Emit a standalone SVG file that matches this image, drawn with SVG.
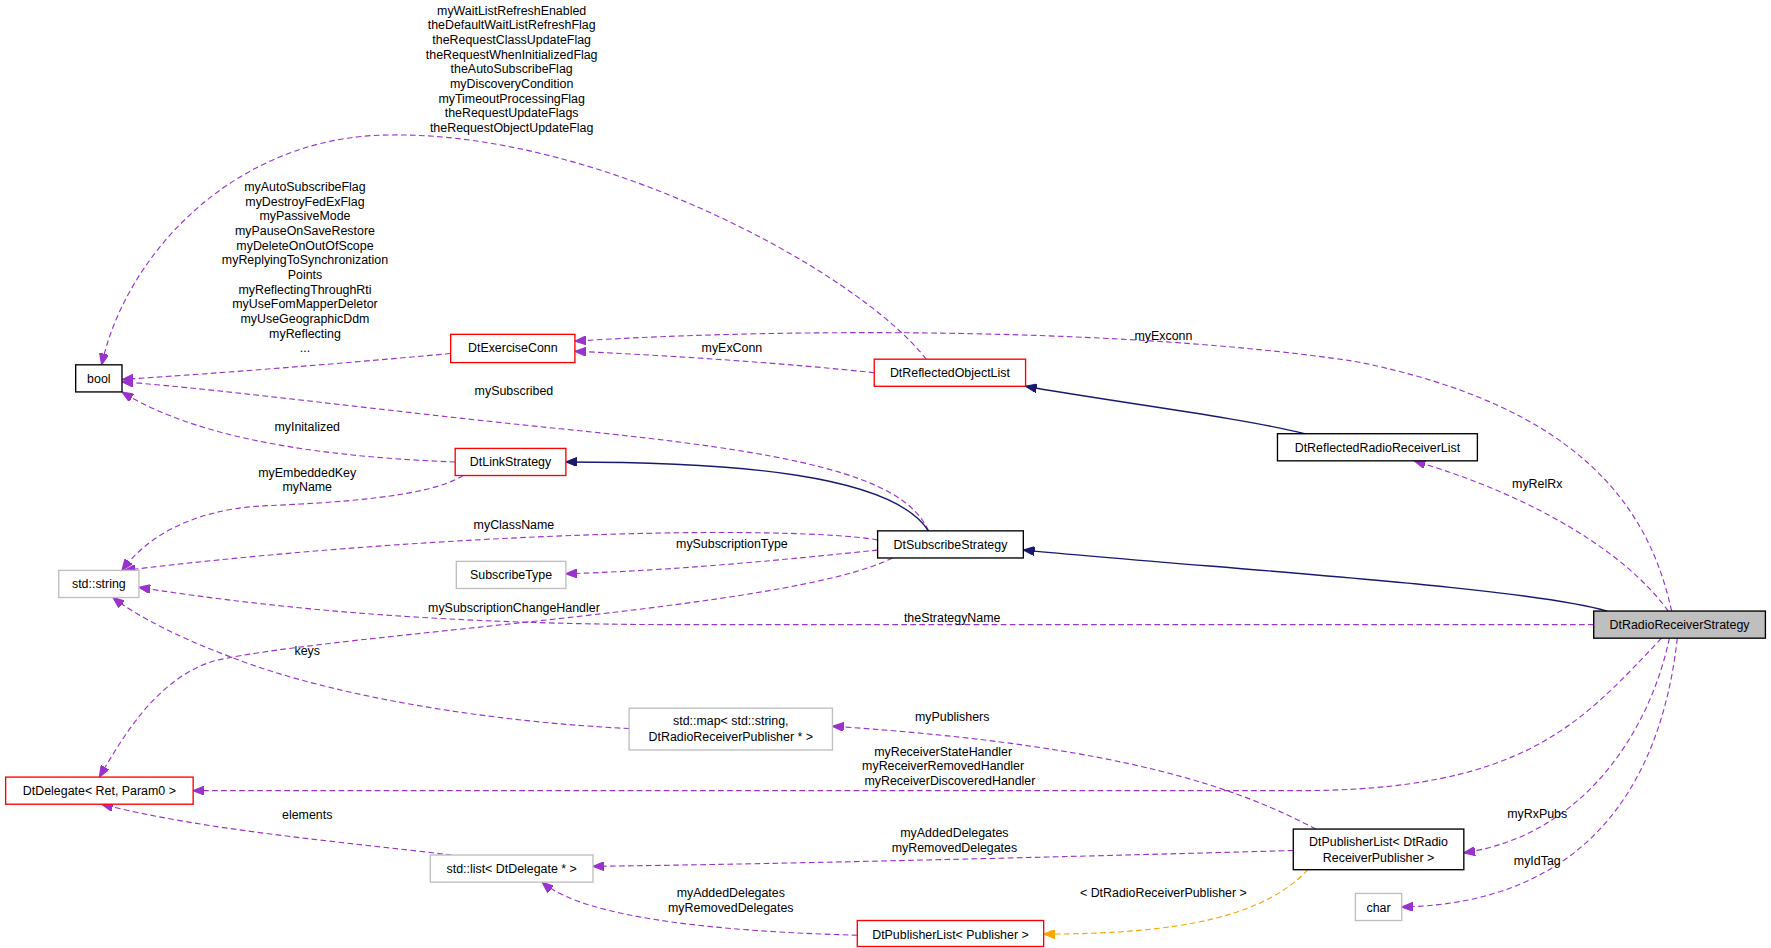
<svg xmlns="http://www.w3.org/2000/svg" width="1771" height="948" viewBox="0 0 1771 948">
<defs>
<marker id="ap" viewBox="0 0 10 8" refX="10" refY="4" markerWidth="10" markerHeight="8" markerUnits="userSpaceOnUse" orient="auto"><path d="M0,0 L10,4 L0,8 Z" fill="#9a32cd" stroke="#9a32cd"/></marker>
<marker id="ab" viewBox="0 0 10 8" refX="10" refY="4" markerWidth="10" markerHeight="8" markerUnits="userSpaceOnUse" orient="auto"><path d="M0,0 L10,4 L0,8 Z" fill="#191970" stroke="#191970"/></marker>
<marker id="ao" viewBox="0 0 10 8" refX="10" refY="4" markerWidth="10" markerHeight="8" markerUnits="userSpaceOnUse" orient="auto"><path d="M0,0 L10,4 L0,8 Z" fill="#ffa500" stroke="#ffa500"/></marker>
</defs>
<style>
text{font-family:"Liberation Sans",Arial,sans-serif;font-size:11px;fill:#000;text-anchor:middle}
.n{fill:#fff;stroke:#000;stroke-width:1.2}
.r{fill:#fff;stroke:#ff0000;stroke-width:1.2}
.g{fill:#fff;stroke:#bfbfbf;stroke-width:1.2}
.f{fill:#bfbfbf;stroke:#000;stroke-width:1.2}
.p{fill:none;stroke:#9a32cd;stroke-dasharray:5,3;marker-end:url(#ap)}
.b{fill:none;stroke:#191970;stroke-width:1.2;marker-end:url(#ab)}
.o{fill:none;stroke:#ffa500;stroke-dasharray:5,3;marker-end:url(#ao)}
</style>
<rect width="1771" height="948" fill="#fff"/>
<g transform="scale(1.1295)">
<g id="edges">
<path class="p" d="M820,318 C760,240 520,110 330,120 C200,128 110,230 90,323"/>
<path class="p" d="M399,313 C300,322 200,330 108,336"/>
<path class="p" d="M822,470 C800,420 700,400 500,380 C350,365 200,345 108,338"/>
<path class="p" d="M403,409 C300,405 180,392 108,347"/>
<path class="p" d="M774,330 C700,322 600,315 509,311"/>
<path class="p" d="M1480,541 C1460,450 1400,360 1200,320 C1000,290 700,290 509,302"/>
<path class="p" d="M1477,541 C1440,490 1360,440 1252,408"/>
<path class="b" d="M1155,384 C1100,370 980,355 908,342"/>
<path class="b" d="M822,470 C790,420 650,409 501,409"/>
<path class="b" d="M1423,541 C1350,520 1100,505 906,487"/>
<path class="p" d="M777,478 C700,465 400,470 110,505"/>
<path class="p" d="M410,421 C380,440 300,445 230,448 C170,452 130,475 108,505"/>
<path class="p" d="M777,487 C700,495 600,505 501,508"/>
<path class="p" d="M1411,553 L600,553 C400,553 250,540 123,520"/>
<path class="p" d="M557,645 C450,640 300,620 200,580 C160,565 120,545 100,529"/>
<path class="p" d="M790,494 C700,540 300,560 190,585 C140,600 110,650 88,688"/>
<path class="p" d="M1165,734 C1100,700 1000,660 737,643"/>
<path class="p" d="M1471,565 C1400,640 1350,700 1150,700 L171,700"/>
<path class="p" d="M1145,753 C1000,757 700,765 525,767"/>
<path class="p" d="M400,757 C300,745 180,735 90,712"/>
<path class="p" d="M759,828 C650,825 520,815 480,781"/>
<path class="o" d="M1158,770 C1120,810 1050,827 924,827"/>
<path class="p" d="M1478,565 C1460,650 1400,740 1296,755"/>
<path class="p" d="M1485,565 C1470,700 1400,800 1241,803"/>
<g id="labels">
<text x="453" y="13">myWaitListRefreshEnabled</text>
<text x="453" y="26">theDefaultWaitListRefreshFlag</text>
<text x="453" y="39">theRequestClassUpdateFlag</text>
<text x="453" y="52">theRequestWhenInitializedFlag</text>
<text x="453" y="65">theAutoSubscribeFlag</text>
<text x="453" y="78">myDiscoveryCondition</text>
<text x="453" y="91">myTimeoutProcessingFlag</text>
<text x="453" y="104">theRequestUpdateFlags</text>
<text x="453" y="117">theRequestObjectUpdateFlag</text>
<text x="270" y="169">myAutoSubscribeFlag</text>
<text x="270" y="182">myDestroyFedExFlag</text>
<text x="270" y="195">myPassiveMode</text>
<text x="270" y="208">myPauseOnSaveRestore</text>
<text x="270" y="221">myDeleteOnOutOfScope</text>
<text x="270" y="234">myReplyingToSynchronization</text>
<text x="270" y="247">Points</text>
<text x="270" y="260">myReflectingThroughRti</text>
<text x="270" y="273">myUseFomMapperDeletor</text>
<text x="270" y="286">myUseGeographicDdm</text>
<text x="270" y="299">myReflecting</text>
<text x="270" y="312">...</text>
<text x="455" y="350">mySubscribed</text>
<text x="272" y="382">myInitalized</text>
<text x="648" y="312">myExConn</text>
<text x="1030" y="301">myExconn</text>
<text x="1361" y="432">myRelRx</text>
<text x="272" y="422">myEmbeddedKey</text>
<text x="272" y="435">myName</text>
<text x="455" y="468">myClassName</text>
<text x="648" y="485">mySubscriptionType</text>
<text x="843" y="551">theStrategyName</text>
<text x="455" y="542">mySubscriptionChangeHandler</text>
<text x="272" y="580">keys</text>
<text x="843" y="638">myPublishers</text>
<text x="835" y="669">myReceiverStateHandler</text>
<text x="835" y="682">myReceiverRemovedHandler</text>
<text x="841" y="695">myReceiverDiscoveredHandler</text>
<text x="845" y="741">myAddedDelegates</text>
<text x="845" y="754">myRemovedDelegates</text>
<text x="272" y="725">elements</text>
<text x="647" y="794">myAddedDelegates</text>
<text x="647" y="807">myRemovedDelegates</text>
<text x="1030" y="794">&lt; DtRadioReceiverPublisher &gt;</text>
<text x="1361" y="724">myRxPubs</text>
<text x="1361" y="766">myIdTag</text>
</g>
</g>
<g id="bool"><rect class="n" x="67" y="323" width="41" height="24"/><text x="87.5" y="339">bool</text></g>
<g id="DtExerciseConn"><rect class="r" x="399" y="296" width="110" height="25"/><text x="454" y="312">DtExerciseConn</text></g>
<g id="DtReflectedObjectList"><rect class="r" x="774" y="318" width="134" height="24"/><text x="841" y="334">DtReflectedObjectList</text></g>
<g id="DtLinkStrategy"><rect class="r" x="403" y="397" width="98" height="24"/><text x="452" y="413">DtLinkStrategy</text></g>
<g id="DtReflectedRadioReceiverList"><rect class="n" x="1131" y="384" width="177" height="24"/><text x="1219.5" y="400">DtReflectedRadioReceiverList</text></g>
<g id="DtSubscribeStrategy"><rect class="n" x="777" y="470" width="129" height="24"/><text x="841.5" y="486">DtSubscribeStrategy</text></g>
<g id="std_string"><rect class="g" x="52" y="505" width="71" height="24"/><text x="87.5" y="521">std::string</text></g>
<g id="SubscribeType"><rect class="g" x="404" y="497" width="97" height="24"/><text x="452.5" y="513">SubscribeType</text></g>
<g id="DtRadioReceiverStrategy"><rect class="f" x="1411" y="541" width="152" height="24"/><text x="1487" y="557">DtRadioReceiverStrategy</text></g>
<g id="std_map"><rect class="g" x="557" y="627" width="180" height="37"/><text x="647" y="642">std::map&lt; std::string,</text><text x="647" y="656">DtRadioReceiverPublisher * &gt;</text></g>
<g id="DtDelegate"><rect class="r" x="5" y="688" width="166" height="24"/><text x="88" y="704">DtDelegate&lt; Ret, Param0 &gt;</text></g>
<g id="std_list"><rect class="g" x="381" y="757" width="144" height="24"/><text x="453" y="773">std::list&lt; DtDelegate * &gt;</text></g>
<g id="DtPublisherList_DtRadio"><rect class="n" x="1145" y="734" width="151" height="36"/><text x="1220.5" y="749">DtPublisherList&lt; DtRadio</text><text x="1220.5" y="763">ReceiverPublisher &gt;</text></g>
<g id="char"><rect class="g" x="1200" y="791" width="41" height="24"/><text x="1220.5" y="807">char</text></g>
<g id="DtPublisherList_Publisher"><rect class="r" x="759" y="815" width="165" height="23"/><text x="841.5" y="831">DtPublisherList&lt; Publisher &gt;</text></g>
</g>
</svg>
